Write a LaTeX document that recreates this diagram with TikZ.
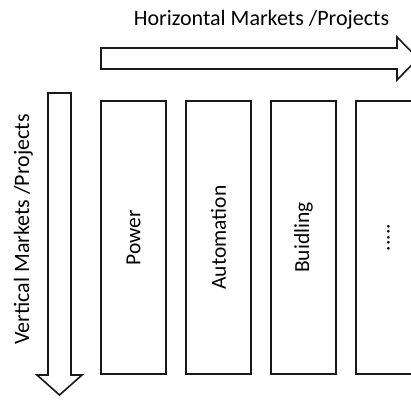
\documentclass[tikz,border=0pt]{standalone}
\usepackage{fontspec}
\usepackage{graphicx}
\setmainfont{Carlito}
\usetikzlibrary{positioning}

\tikzset{
  market/.style={draw=black!90, line width=1.6pt, minimum width=65pt,
    minimum height=273pt, inner sep=0pt, font=\fontsize{21.5}{24}\selectfont},
  fatarrow/.style={draw=black!90, line width=1.6pt, fill=white},
  caption/.style={font=\fontsize{22}{24}\selectfont, inner sep=0pt}
}

\begin{document}
\begin{tikzpicture}[x=1pt,y=-1pt,node distance=18.4pt]
   \useasboundingbox (0,0) rectangle (411,399);
   % titles
   \node[caption,anchor=base] (htitle) at (261.5,25) {Horizontal Markets /Projects};
   \node[caption,anchor=base,rotate=90] (vtitle) at (29,229.5) {Vertical Markets /Projects};
   % arrows
   \draw[fatarrow] (101,48) -- (397,48) -- (397,37) -- (418,58.5) -- (397,80)
      -- (397,69) -- (101,69) -- cycle;
   \draw[fatarrow] (48,93) -- (48,375) -- (37,375) -- (59.5,395) -- (82,375)
      -- (71,375) -- (71,93) -- cycle;
   % market columns
   \node[market] (power) at (133.5,237.5) {\rotatebox{90}{Power}};
   \node[market] (automation) [right=of power] {\rotatebox{90}{Automation}};
   \node[market] (building) [right=of automation] {\rotatebox{90}{Buidling}};
   \node[market] (more) [right=of building] {\rotatebox{90}{.....}};
\end{tikzpicture}
\end{document}
